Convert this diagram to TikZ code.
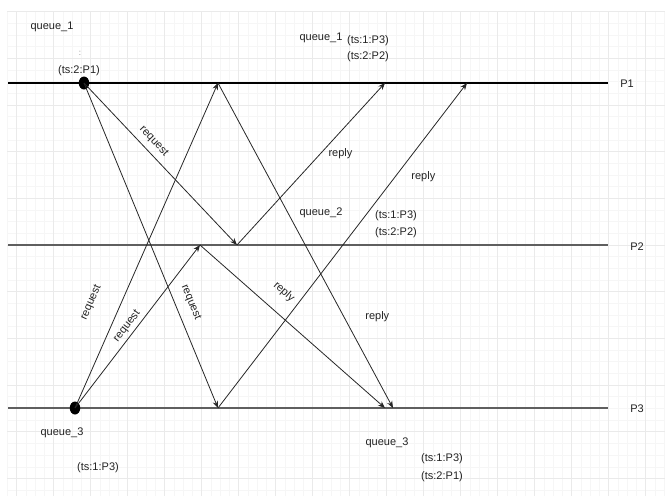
\documentclass[tikz,border=0pt]{standalone}
\usepackage{fontspec}
\setmainfont{Liberation Sans}
\usepackage{xcolor}
\usetikzlibrary{arrows.meta, shapes.geometric}
\definecolor{gridlight}{HTML}{F6F6F6}
\definecolor{griddark}{HTML}{EAEAEA}
\definecolor{lanegray}{HTML}{5F5F5F}
\definecolor{textgray}{HTML}{222222}

\tikzset{
  gridminor/.style={gridlight, line width=0.6pt},
  gridmajor/.style={griddark, line width=0.7pt},
  laneone/.style={black, line width=1.1pt},
  lane/.style={lanegray, line width=1.7pt},
  msg/.style={-{Stealth[length=7pt,width=5.5pt]}, black!85, line width=0.8pt},
  lbl/.style={font=\fontsize{11}{13}\selectfont, text=textgray, inner sep=1pt},
  dotmark/.style={ellipse, fill=black, minimum width=10.5pt, minimum height=13pt, inner sep=0pt},
}

\begin{document}
\begin{tikzpicture}[x=1pt, y=-1pt]
  \useasboundingbox (0,0) rectangle (665,496);

  % background grid
  \foreach \i in {0,...,71}
    \draw[gridminor] ({7.45+9.25*\i},11.67) -- ({7.45+9.25*\i},496);
  \foreach \j in {1,...,42}
    \draw[gridminor] (7.45,{11.67*\j}) -- (665,{11.67*\j});
  \foreach \i in {1,5,...,69}
    \draw[gridmajor] ({7.45+9.25*\i},11.67) -- ({7.45+9.25*\i},496);
  \foreach \j in {1,5,...,41}
    \draw[gridmajor] (7.45,{11.67*\j}) -- (665,{11.67*\j});

  % process lines
  \coordinate (p1s) at (8,83);  \coordinate (p1e) at (608,83);
  \coordinate (p2s) at (8,245); \coordinate (p2e) at (608,245);
  \coordinate (p3s) at (8,408); \coordinate (p3e) at (608,408);
  \draw[laneone] (p1s) -- (p1e);
  \draw[lane] (p2s) -- (p2e);
  \draw[lane] (p3s) -- (p3e);
  \node[lbl] (lp1) at (627,84) {P1};
  \node[lbl] (lp2) at (637,247) {P2};
  \node[lbl] (lp3) at (637,409) {P3};

  % events
  \node[dotmark] (d1) at (84,83) {};
  \node[dotmark] (d3) at (75,408) {};
  \coordinate (p1a) at (218,83);
  \coordinate (p1b) at (385,83);
  \coordinate (p1c) at (467,83);
  \coordinate (p2a) at (200,245);
  \coordinate (p2b) at (237,245);
  \coordinate (p3a) at (218,408);
  \coordinate (p3b) at (385,408);
  \coordinate (p3c) at (393,408);

  % requests
  \draw[msg] (d1.center) -- node[lbl, sloped, pos=0.405, above=4.6pt] {request} (p2b);
  \draw[msg] (d1.center) -- node[lbl, sloped, pos=0.693, above=9pt] {request} (p3a);
  \draw[msg] (d3.center) -- node[lbl, sloped, pos=0.29, above=21.5pt] {request} (p1a);
  \draw[msg] (d3.center) -- node[lbl, sloped, pos=0.47, above=2.2pt] {request} (p2a);

  % replies
  \draw[msg] (p1a) -- node[lbl, pos=0.72, right=20pt] {reply} (p3c);
  \draw[msg] (p2a) -- node[lbl, sloped, pos=0.381, above=13.8pt] {reply} (p3b);
  \draw[msg] (p2b) -- node[lbl, pos=0.562, right=7pt] {reply} (p1b);
  \draw[msg] (p3a) -- node[lbl, pos=0.711, right=15pt] {reply} (p1c);

  % queues
  \node[lbl] (q1) at (52,27) {queue\_1};
  \node[lbl, font=\fontsize{8}{9}\selectfont, text=gray] (q1sep) at (80,53) {:};
  \node[lbl] (q1ts) at (79,71) {(ts:2:P1)};
  \node[lbl] (q1b) at (321,38) {queue\_1};
  \node[lbl] (q1bts) at (368,41) {(ts:1:P3)};
  \node[lbl] (q1bts2) at (368,57) {(ts:2:P2)};
  \node[lbl] (q2) at (321,213) {queue\_2};
  \node[lbl] (q2ts) at (396,216) {(ts:1:P3)};
  \node[lbl] (q2ts2) at (396,233) {(ts:2:P2)};
  \node[lbl] (q3) at (62,433) {queue\_3};
  \node[lbl] (q3ts) at (98,468) {(ts:1:P3)};
  \node[lbl] (q3b) at (387,443) {queue\_3};
  \node[lbl] (q3bts) at (442,459) {(ts:1:P3)};
  \node[lbl] (q3bts2) at (442,477) {(ts:2:P1)};
\end{tikzpicture}
\end{document}
